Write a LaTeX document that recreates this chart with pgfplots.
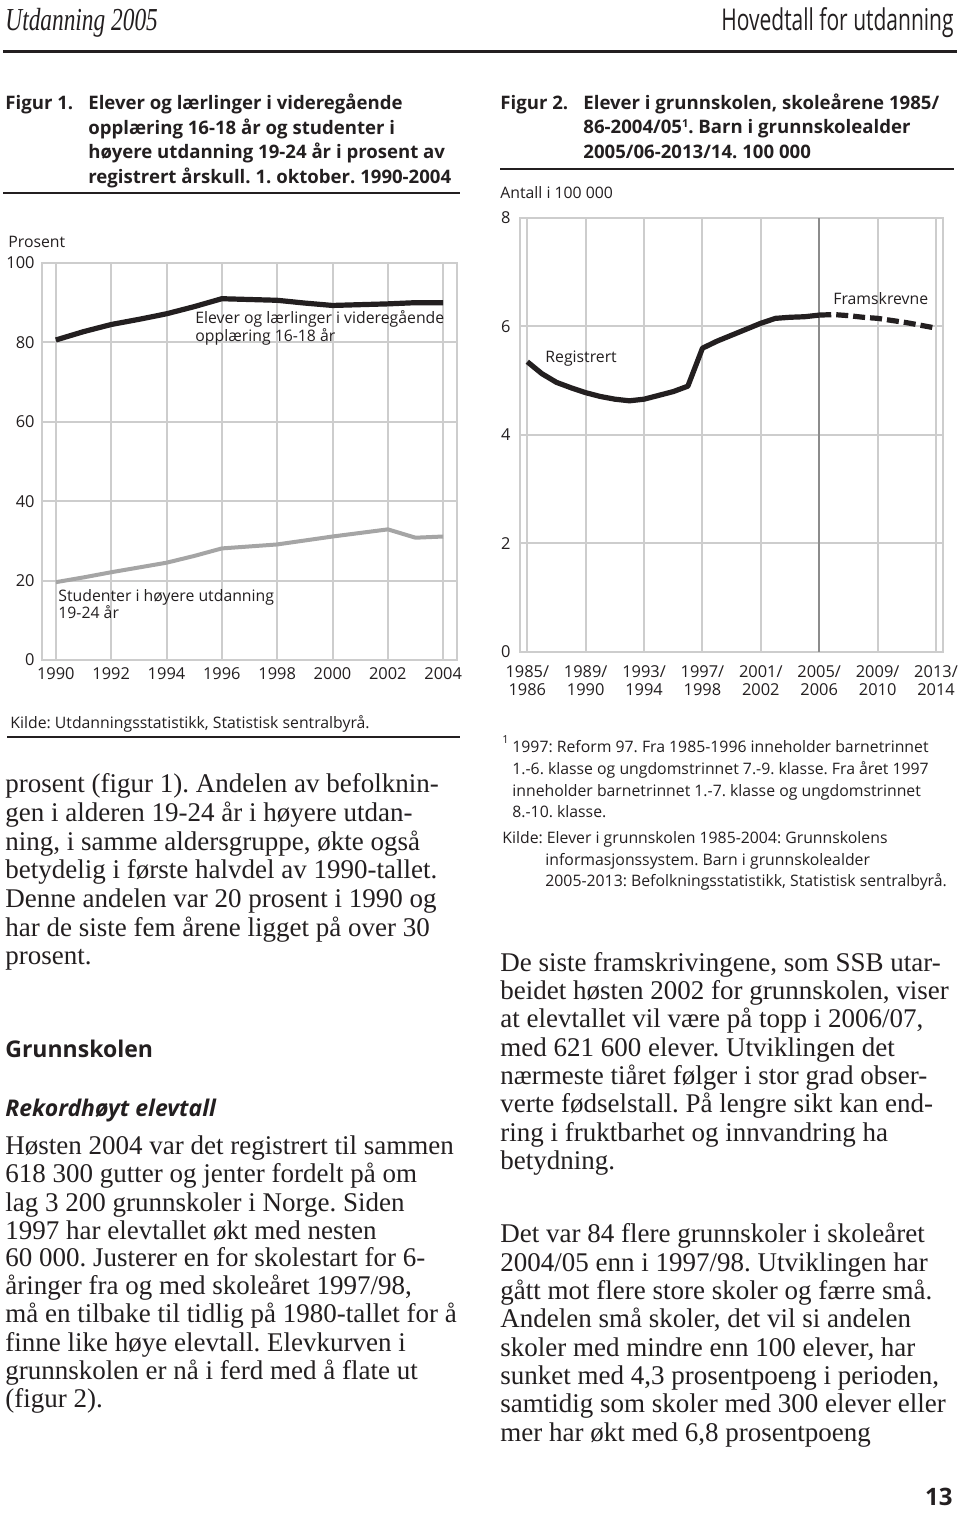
\documentclass[border=0pt]{standalone}
\usepackage{pgfplots}
\pgfplotsset{compat=1.18}
\usepackage{fontspec}
\setmainfont{Liberation Serif}
\newfontfamily\osans{Open Sans}
\definecolor{gridg}{RGB}{205,205,205}
\definecolor{ink}{RGB}{35,31,32}
\definecolor{lgray}{RGB}{165,165,165}
\definecolor{dgray}{RGB}{140,140,140}
\newcommand{\cf}{\osans\fontsize{7.9}{9}\selectfont}
\newcommand{\tf}{\osans\bfseries\fontsize{9.3}{11}\selectfont}
\newcommand{\bodyf}{\fontsize{13.5}{14.5}\selectfont}
\newcommand{\hf}{\osans\bfseries\fontsize{11.5}{13}\selectfont}
\frenchspacing
\begin{document}
\begin{tikzpicture}
\fill[white] (0,0) rectangle (480pt,759pt);
\path[use as bounding box] (0,0) rectangle (480pt,759pt);

% Figure 1 axis
\begin{axis}[at={(21pt,429pt)}, anchor=south west, scale only axis,
  width=207.5pt, height=198.5pt,
  xmin=1989.5, xmax=2004.5, ymin=0, ymax=100,
  xtick={1990,1992,...,2004}, ytick={0,20,...,100},
  minor x tick num=1,
  xtick pos=left, ytick pos=left,
  grid=major, major grid style={gridg, line width=1pt},
  axis line style={gridg, line width=1pt},
  major tick length=0pt, minor tick length=3.5pt,
  minor tick style={gridg, line width=1pt},
  /pgf/number format/assume math mode=true,
  /pgf/number format/1000 sep={},
  xticklabel style={font=\osans\fontsize{8.2}{9}\selectfont, text=ink, anchor=north, inner sep=0pt, yshift=-3.5pt},
  yticklabel style={font=\osans\fontsize{8.2}{9}\selectfont, text=ink, anchor=east, inner sep=0pt, xshift=-3.5pt},
]
\addplot[ink, line width=2.6pt, line join=round] coordinates {
(1990,80.6) (1991,82.7) (1992,84.5) (1993,85.8) (1994,87.2) (1995,89.0)
(1996,91.0) (1997,90.8) (1998,90.6) (1999,89.9) (2000,89.3) (2001,89.5)
(2002,89.7) (2003,90.0) (2004,90.0)};
\addplot[lgray, line width=2pt, line join=round] coordinates {
(1990,19.6) (1991,20.8) (1992,22.1) (1993,23.3) (1994,24.5) (1995,26.2)
(1996,28.1) (1997,28.6) (1998,29.1) (1999,30.1) (2000,31.1) (2001,32.0)
(2002,32.9) (2003,30.8) (2004,31.1)};
\end{axis}

% Figure 2 axis
\begin{axis}[at={(260pt,433pt)}, anchor=south west, scale only axis,
  width=211.65pt, height=217pt,
  xmin=1984.5, xmax=2013.5, ymin=0, ymax=8,
  xtick={1985,1989,...,2013}, ytick={0,2,...,8},
  xticklabels={{1985/\\1986},{1989/\\1990},{1993/\\1994},{1997/\\1998},{2001/\\2002},{2005/\\2006},{2009/\\2010},{2013/\\2014}},
  minor x tick num=3,
  extra x ticks={2005}, extra x tick labels={},
  extra x tick style={major grid style={dgray, line width=1.1pt}},
  xtick pos=left, ytick pos=left,
  grid=major, major grid style={gridg, line width=1pt},
  axis line style={gridg, line width=1pt},
  major tick length=0pt, minor tick length=4pt,
  minor tick style={gridg, line width=1pt},
  /pgf/number format/assume math mode=true,
  /pgf/number format/1000 sep={},
  xticklabel style={font=\osans\fontsize{8.2}{9}\selectfont, text=ink, anchor=north, align=center, inner sep=0pt, yshift=-6.5pt},
  yticklabel style={font=\osans\fontsize{8.2}{9}\selectfont, text=ink, anchor=east, inner sep=0pt, xshift=-4.6pt},
]
\addplot[ink, line width=2.6pt, line join=round] coordinates {
(1985,5.35) (1986,5.13) (1987,4.97) (1988,4.87) (1989,4.78) (1990,4.71)
(1991,4.66) (1992,4.63) (1993,4.66) (1994,4.73) (1995,4.80) (1996,4.90)
(1997,5.60) (1998,5.73) (1999,5.84) (2000,5.95) (2001,6.06) (2002,6.15)
(2003,6.17) (2004,6.18) (2005,6.21)};
\addplot[ink, line width=2.6pt, dash pattern=on 6pt off 2.5pt] coordinates {
(2005,6.21) (2006,6.22) (2007,6.20) (2008,6.17) (2009,6.15) (2010,6.11)
(2011,6.07) (2012,6.02) (2013,5.97)};
\end{axis}

\begin{scope}[x=0.5pt,y=-0.5pt,yshift=759pt,every node/.style={inner sep=0pt,text=ink}]
% header
\node[anchor=base west] at (5,31) {\scalebox{0.73}[1]{\fontsize{16}{16}\selectfont\itshape Utdanning 2005}};
\node[anchor=base east] at (954,31) {\scalebox{0.7}[1]{\osans\fontsize{15}{15}\selectfont Hovedtall for utdanning}};
\draw[ink,line width=1.5pt] (3,52) -- (957,52);
% figure 1 title
\node[anchor=base west,font=\tf] at (5,110) {Figur 1.};
\node[anchor=base west,font=\tf] at (88,110) {Elever og lærlinger i videregående};
\node[anchor=base west,font=\tf] at (88,134.5) {opplæring 16-18 år og studenter i};
\node[anchor=base west,font=\tf] at (88,159) {høyere utdanning 19-24 år i prosent av};
\node[anchor=base west,font=\tf] at (88,183.5) {registrert årskull. 1. oktober. 1990-2004};
\draw[ink,line width=0.7pt] (3,193) -- (460,193);
\node[anchor=base west,font=\cf] at (8,248) {Prosent};
\node[anchor=base west,font=\cf] at (195,324) {Elever og lærlinger i videregående};
\node[anchor=base west,font=\cf] at (195,341.5) {opplæring 16-18 år};
\node[anchor=base west,font=\cf] at (58,601.5) {Studenter i høyere utdanning};
\node[anchor=base west,font=\cf] at (58,618.5) {19-24 år};
\node[anchor=base west,font=\cf] at (10,729) {Kilde: Utdanningsstatistikk, Statistisk sentralbyrå.};
\draw[ink,line width=0.7pt] (7,737) -- (460,737);
% figure 2 title
\node[anchor=base west,font=\tf] at (500,109.5) {Figur 2.};
\node[anchor=base west,font=\tf] at (583,109.5) {Elever i grunnskolen, skoleårene 1985/};
\node[anchor=base west,font=\tf] at (583,134) {86-2004/05\raisebox{3.2pt}{\fontsize{5.5}{6}\selectfont 1}. Barn i grunnskolealder};
\node[anchor=base west,font=\tf] at (583,158.5) {2005/06-2013/14. 100 000};
\draw[ink,line width=0.7pt] (500,169) -- (954,169);
\node[anchor=base west,font=\cf] at (500,199) {Antall i 100 000};
\node[anchor=base west,font=\cf] at (833,305) {Framskrevne};
\node[anchor=base west,font=\cf] at (545,362.5) {Registrert};
% footnote
\node[anchor=base west,font=\osans\fontsize{5.5}{6}\selectfont] at (502,744) {1};
\node[anchor=base west,font=\cf] at (512,753) {1997: Reform 97. Fra 1985-1996 inneholder barnetrinnet};
\node[anchor=base west,font=\cf] at (512,775) {1.-6. klasse og ungdomstrinnet 7.-9. klasse. Fra året 1997};
\node[anchor=base west,font=\cf] at (512,796.5) {inneholder barnetrinnet 1.-7. klasse og ungdomstrinnet};
\node[anchor=base west,font=\cf] at (512,818) {8.-10. klasse.};
\node[anchor=base west,font=\cf] at (502,844) {Kilde: Elever i grunnskolen 1985-2004: Grunnskolens};
\node[anchor=base west,font=\cf] at (545,865.5) {informasjonssystem. Barn i grunnskolealder};
\node[anchor=base west,font=\cf] at (545,887) {2005-2013: Befolkningsstatistikk, Statistisk sentralbyrå.};
% left body
\node[anchor=base west,font=\bodyf] at (5,793) {prosent (figur 1). Andelen av befolknin-};
\node[anchor=base west,font=\bodyf] at (5,822) {gen i alderen 19-24 år i høyere utdan-};
\node[anchor=base west,font=\bodyf] at (5,850.5) {ning, i samme aldersgruppe, økte også};
\node[anchor=base west,font=\bodyf] at (5,879) {betydelig i første halvdel av 1990-tallet.};
\node[anchor=base west,font=\bodyf] at (5,908) {Denne andelen var 20 prosent i 1990 og};
\node[anchor=base west,font=\bodyf] at (5,936.5) {har de siste fem årene ligget på over 30};
\node[anchor=base west,font=\bodyf] at (5,965) {prosent.};
\node[anchor=base west,font=\hf] at (5,1058) {Grunnskolen};
\node[anchor=base west,font=\hf\itshape] at (5,1117) {Rekordhøyt elevtall};
\node[anchor=base west,font=\bodyf] at (5,1155) {Høsten 2004 var det registrert til sammen};
\node[anchor=base west,font=\bodyf] at (5,1183) {618 300 gutter og jenter fordelt på om};
\node[anchor=base west,font=\bodyf] at (5,1212) {lag 3 200 grunnskoler i Norge. Siden};
\node[anchor=base west,font=\bodyf] at (5,1240) {1997 har elevtallet økt med nesten};
\node[anchor=base west,font=\bodyf] at (5,1267) {60 000. Justerer en for skolestart for 6-};
\node[anchor=base west,font=\bodyf] at (5,1295) {åringer fra og med skoleåret 1997/98,};
\node[anchor=base west,font=\bodyf] at (5,1323) {må en tilbake til tidlig på 1980-tallet for å};
\node[anchor=base west,font=\bodyf] at (5,1352) {finne like høye elevtall. Elevkurven i};
\node[anchor=base west,font=\bodyf] at (5,1380) {grunnskolen er nå i ferd med å flate ut};
\node[anchor=base west,font=\bodyf] at (5,1408) {(figur 2).};
% right body
\node[anchor=base west,font=\bodyf] at (500,972) {De siste framskrivingene, som SSB utar-};
\node[anchor=base west,font=\bodyf] at (500,1000) {beidet høsten 2002 for grunnskolen, viser};
\node[anchor=base west,font=\bodyf] at (500,1028) {at elevtallet vil være på topp i 2006/07,};
\node[anchor=base west,font=\bodyf] at (500,1057) {med 621 600 elever. Utviklingen det};
\node[anchor=base west,font=\bodyf] at (500,1085) {nærmeste tiåret følger i stor grad obser-};
\node[anchor=base west,font=\bodyf] at (500,1113) {verte fødselstall. På lengre sikt kan end-};
\node[anchor=base west,font=\bodyf] at (500,1142) {ring i fruktbarhet og innvandring ha};
\node[anchor=base west,font=\bodyf] at (500,1170) {betydning.};
\node[anchor=base west,font=\bodyf] at (500,1243) {Det var 84 flere grunnskoler i skoleåret};
\node[anchor=base west,font=\bodyf] at (500,1272) {2004/05 enn i 1997/98. Utviklingen har};
\node[anchor=base west,font=\bodyf] at (500,1300) {gått mot flere store skoler og færre små.};
\node[anchor=base west,font=\bodyf] at (500,1328) {Andelen små skoler, det vil si andelen};
\node[anchor=base west,font=\bodyf] at (500,1357) {skoler med mindre enn 100 elever, har};
\node[anchor=base west,font=\bodyf] at (500,1385) {sunket med 4,3 prosentpoeng i perioden,};
\node[anchor=base west,font=\bodyf] at (500,1413) {samtidig som skoler med 300 elever eller};
\node[anchor=base west,font=\bodyf] at (500,1442) {mer har økt med 6,8 prosentpoeng};
\node[anchor=base east,font=\osans\bfseries\fontsize{12}{12}\selectfont] at (953,1506) {13};
\end{scope}
\end{tikzpicture}
\end{document}
